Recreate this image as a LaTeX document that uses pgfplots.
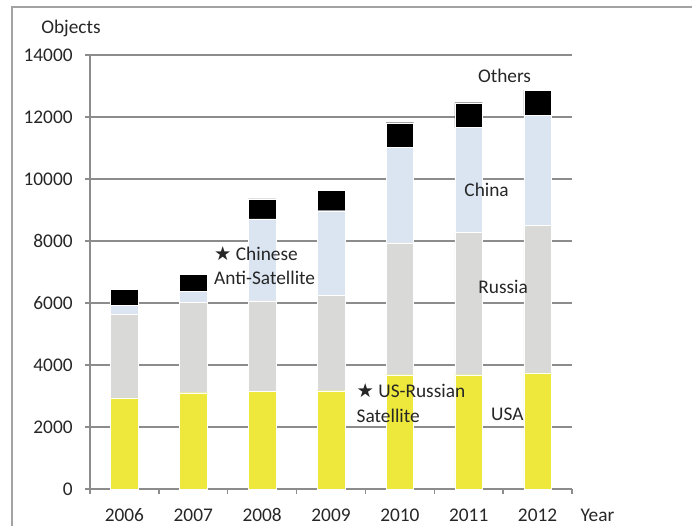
\documentclass[border=0pt]{standalone}
\usepackage{pgfplots}
\pgfplotsset{compat=1.18}
\usepackage{fontspec}
\setmainfont{Carlito}
\newfontfamily\symfont{DejaVu Sans}

\definecolor{usa}{RGB}{238,232,60}
\definecolor{russia}{RGB}{217,217,215}
\definecolor{china}{RGB}{219,229,241}
\definecolor{others}{RGB}{0,0,0}
\definecolor{txt}{RGB}{38,38,38}
\definecolor{gridgray}{RGB}{140,140,140}

\begin{document}
\fontsize{14.5}{17}\selectfont
\begin{tikzpicture}
\path[use as bounding box] (0,0) rectangle (519pt,393.75pt);
% outer frame of the figure
\draw[gridgray!80, line width=0.8pt] (9pt,-20pt) rectangle (540pt,388.5pt);
\begin{axis}[
    at={(67.5pt,27pt)}, anchor=south west,
    scale only axis,
    width=361.5pt, height=325.5pt,
    xmin=-0.5, xmax=6.5,
    ymin=0, ymax=14000,
    ybar stacked,
    bar width=0.4,
    axis lines*=left,
    axis line style={-, draw=gridgray, line width=1pt},
    ytick={0,2000,...,14000},
    ymajorgrids,
    grid style={draw=gridgray, line width=1pt},
    tick align=outside,
    major tick length=3.5pt,
    minor tick length=3.5pt,
    tick style={draw=gridgray, line width=1pt},
    xtick={0,...,6},
    xticklabels={2006,2007,2008,2009,2010,2011,2012},
    major x tick style={draw=none},
    minor xtick={-0.5,0.5,...,6.5},
    scaled y ticks=false,
    /pgf/number format/set thousands separator={},
    /pgf/number format/assume math mode=true,
    ticklabel style={text=txt, font=\fontsize{14.5}{17}\selectfont},
    xticklabel style={text height=9.5pt, text depth=0pt, yshift=-6pt},
    yticklabel style={xshift=-4.5pt},
    clip=false,
]
\addplot[fill=usa, draw=white, line width=0.3pt] coordinates
    {(0,2940) (1,3106) (2,3139) (3,3171) (4,3687) (5,3687) (6,3742)};
\addplot[fill=russia, draw=white, line width=0.3pt] coordinates
    {(0,2705) (1,2917) (2,2935) (3,3087) (4,4258) (5,4581) (6,4752)};
\addplot[fill=china, draw=white, line width=0.3pt] coordinates
    {(0,290) (1,342) (2,2636) (3,2719) (4,3065) (5,3387) (6,3561)};
\addplot[fill=others, draw=white, line width=0.3pt] coordinates
    {(0,515) (1,548) (2,645) (3,658) (4,806) (5,806) (6,806)};

% thin white band across the bars
\draw[white, line width=0.6pt] (axis cs:0.5,6506) -- (axis cs:6.5,6506);

\coordinate (chin1) at (axis cs:1.30,7581);
\coordinate (chin2) at (axis cs:1.30,6806);
\coordinate (usr1) at (axis cs:3.37,3161);
\coordinate (usr2) at (axis cs:3.37,2355);
\coordinate (oth) at (axis cs:5.52,13323);
\coordinate (chn) at (axis cs:5.26,9645);
\coordinate (rus) at (axis cs:5.50,6516);
\coordinate (us) at (axis cs:5.56,2419);
\coordinate (objl) at (axis cs:-0.776,14871);
\coordinate (yearl) at (axis cs:6.87,-839);
\end{axis}
\begin{scope}[every node/.style={text=txt, inner sep=0pt}]
\node[anchor=west] at (chin1) {{\symfont ★} Chinese};
\node[anchor=west] at (chin2) {Anti-Satellite};
\node[anchor=west] at (usr1) {{\symfont ★} US-Russian};
\node[anchor=west] at (usr2) {Satellite};
\node at (oth) {Others};
\node at (chn) {China};
\node at (rus) {Russia};
\node at (us) {USA};
\node at (objl) {Objects};
\node at (yearl) {Year};
\end{scope}
\end{tikzpicture}
\end{document}
